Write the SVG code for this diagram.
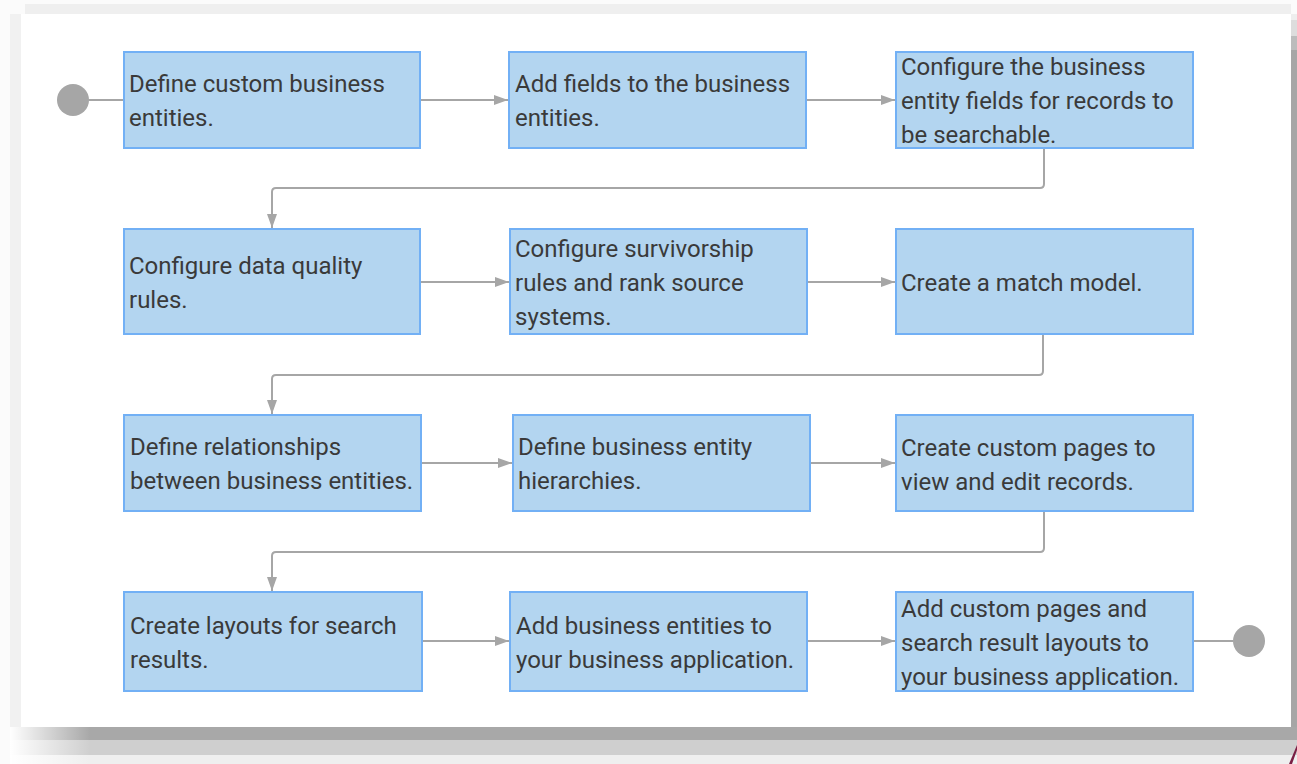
<svg xmlns="http://www.w3.org/2000/svg" width="1297" height="764" viewBox="0 0 1297 764">
<defs>
<style>
.node rect{fill:#b3d5f0;stroke:#72b0f5;stroke-width:2}
.node text{font-family:Roboto,"Liberation Sans",sans-serif;font-size:24px;fill:#3a3a3a}
.conn path{fill:none;stroke:#a6a6a6;stroke-width:2}
.term{fill:#a6a6a6}
</style>
<marker id="arr" viewBox="0 0 14 10" refX="14" refY="5" markerWidth="14" markerHeight="10" markerUnits="userSpaceOnUse" orient="auto">
<path d="M0,0 L14,5 L0,10 Z" fill="#a6a6a6"/>
</marker>
<linearGradient id="fadeL" x1="0" x2="1" y1="0" y2="0">
<stop offset="0" stop-color="#fff" stop-opacity="1"/>
<stop offset="1" stop-color="#fff" stop-opacity="0"/>
</linearGradient>
</defs>
<!-- background frame -->
<rect x="0" y="0" width="1297" height="764" fill="#fbfbfb"/>
<rect x="25" y="4" width="1266" height="10" fill="#efefef"/>
<rect x="10" y="14" width="11" height="726" fill="#f1f1f1"/>
<rect x="10" y="727" width="1287" height="13" fill="#a8a8a8"/>
<rect x="10" y="740" width="1287" height="15" fill="#cfcfcf"/>
<rect x="10" y="755" width="1287" height="9" fill="#efefef"/>
<rect x="10" y="727" width="80" height="37" fill="url(#fadeL)"/>
<rect x="1291" y="14" width="6" height="6" fill="#eeeeee"/>
<rect x="1291" y="20" width="6" height="16" fill="#dddddd"/>
<rect x="1291" y="36" width="6" height="14" fill="#bcbcbc"/>
<rect x="1291" y="50" width="6" height="677" fill="#a6a6a6"/>
<rect x="21" y="14" width="1270" height="713" fill="#ffffff"/>
<polygon points="1297,745 1297,750 1292,764 1289,764" fill="#7a1f45"/>

<g class="conn">
<path d="M89,100 H123"/>
<path d="M421,100 H508" marker-end="url(#arr)"/>
<path d="M807,100 H895" marker-end="url(#arr)"/>
<path d="M1044,149 V184 Q1044,188 1040,188 H276 Q272,188 272,192 V228" marker-end="url(#arr)"/>
<path d="M421,282 H509" marker-end="url(#arr)"/>
<path d="M808,282 H895" marker-end="url(#arr)"/>
<path d="M1043,335 V371 Q1043,375 1039,375 H276 Q272,375 272,379 V414" marker-end="url(#arr)"/>
<path d="M422,463 H512" marker-end="url(#arr)"/>
<path d="M811,463 H895" marker-end="url(#arr)"/>
<path d="M1044,512 V548 Q1044,552 1040,552 H276 Q272,552 272,556 V591" marker-end="url(#arr)"/>
<path d="M423,641 H509" marker-end="url(#arr)"/>
<path d="M808,641 H895" marker-end="url(#arr)"/>
<path d="M1194,641 H1233"/>
</g>

<g id="start"><circle class="term" cx="73" cy="100" r="16"/></g>
<g id="end"><circle class="term" cx="1249" cy="641" r="16"/></g>

<g id="n1" class="node"><rect x="124" y="52" width="296" height="96"/>
<text x="129" y="92">Define custom business</text><text x="129" y="126">entities.</text></g>
<g id="n2" class="node"><rect x="509" y="52" width="297" height="96"/>
<text x="515" y="92">Add fields to the business</text><text x="515" y="126">entities.</text></g>
<g id="n3" class="node"><rect x="896" y="52" width="297" height="96"/>
<text x="901" y="75">Configure the business</text><text x="901" y="109">entity fields for records to</text><text x="901" y="143">be searchable.</text></g>

<g id="n4" class="node"><rect x="124" y="229" width="296" height="105"/>
<text x="129" y="274">Configure data quality</text><text x="129" y="308">rules.</text></g>
<g id="n5" class="node"><rect x="510" y="229" width="297" height="105"/>
<text x="515" y="257">Configure survivorship</text><text x="515" y="291">rules and rank source</text><text x="515" y="325">systems.</text></g>
<g id="n6" class="node"><rect x="896" y="229" width="297" height="105"/>
<text x="901" y="291">Create a match model.</text></g>

<g id="n7" class="node"><rect x="124" y="415" width="297" height="96"/>
<text x="130" y="455">Define relationships</text><text x="130" y="489">between business entities.</text></g>
<g id="n8" class="node"><rect x="513" y="415" width="297" height="96"/>
<text x="518" y="455">Define business entity</text><text x="518" y="489">hierarchies.</text></g>
<g id="n9" class="node"><rect x="896" y="415" width="297" height="96"/>
<text x="901" y="456">Create custom pages to</text><text x="901" y="490">view and edit records.</text></g>

<g id="n10" class="node"><rect x="124" y="592" width="298" height="99"/>
<text x="130" y="634">Create layouts for search</text><text x="130" y="668">results.</text></g>
<g id="n11" class="node"><rect x="510" y="592" width="297" height="99"/>
<text x="516" y="634">Add business entities to</text><text x="516" y="668">your business application.</text></g>
<g id="n12" class="node"><rect x="896" y="592" width="297" height="99"/>
<text x="901" y="617">Add custom pages and</text><text x="901" y="651">search result layouts to</text><text x="901" y="685">your business application.</text></g>
</svg>
